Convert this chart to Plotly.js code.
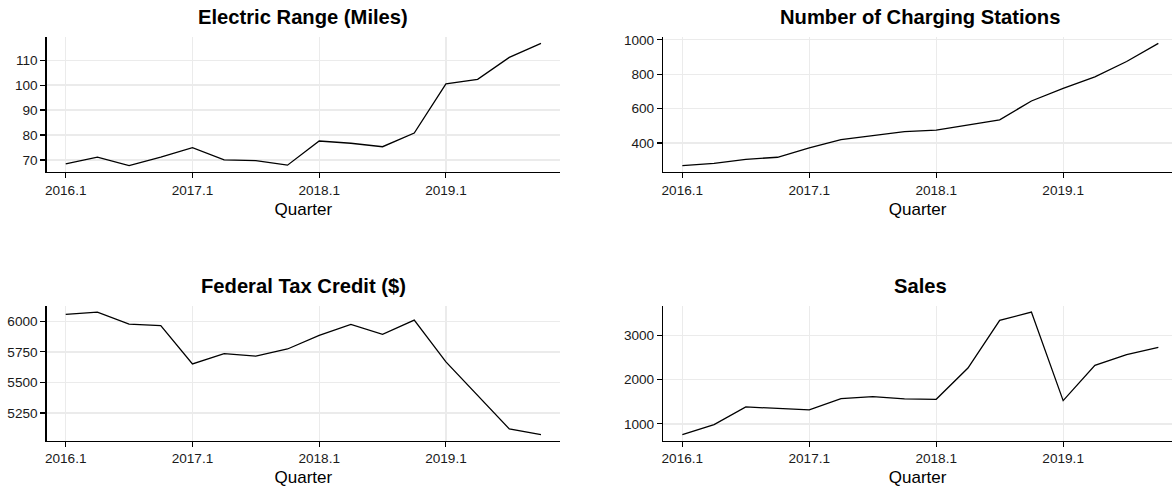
<!DOCTYPE html>
<html>
<head>
<meta charset="utf-8">
<script src="https://cdn.plot.ly/plotly-3.0.1.min.js"></script>
<style>
  html, body { margin: 0; padding: 0; background: #ffffff; overflow: hidden; }
  #chart { width: 1172px; height: 487px; }
</style>
</head>
<body>
<div id="chart"></div>
<script>
// ---- data ----
const quarters = [
  "2016.1","2016.2","2016.3","2016.4",
  "2017.1","2017.2","2017.3","2017.4",
  "2018.1","2018.2","2018.3","2018.4",
  "2019.1","2019.2","2019.3","2019.4"
];
const tickQuarters = ["2016.1","2017.1","2018.1","2019.1"];

const electricRange = [68.4, 71.1, 67.7, 71.1, 74.9, 70.0, 69.7, 67.9,
                       77.6, 76.7, 75.3, 80.8, 100.5, 102.3, 111.1, 116.7];
const chargingStations = [268, 282, 305, 317, 371, 419, 443, 466,
                          475, 503, 535, 644, 717, 785, 874, 979];
const taxCredit = [6057, 6076, 5978, 5965, 5652, 5736, 5715, 5774,
                   5886, 5976, 5894, 6011, 5668, 5394, 5120, 5073];
const sales = [759, 985, 1383, 1346, 1316, 1571, 1617, 1564,
               1556, 2263, 3338, 3526, 1526, 2323, 2564, 2729];

const panelTitles = ["Electric Range (Miles)", "Number of Charging Stations",
                     "Federal Tax Credit ($)", "Sales"];
const yTicks = [
  [70, 80, 90, 100, 110],
  [400, 600, 800, 1000],
  [5250, 5500, 5750, 6000],
  [1000, 2000, 3000]
];
const xTitle = "Quarter";

// ---- layout helpers ----
const W = 1172, H = 487;
const FONT = "Liberation Sans, Arial, Helvetica, sans-serif";
const series = [electricRange, chargingStations, taxCredit, sales];

function expandRange(vals) {
  const mn = Math.min(...vals), mx = Math.max(...vals);
  const pad = 0.05 * (mx - mn);
  return [mn - pad, mx + pad];
}

// panel pixel boxes (left, right, top, bottom)
const boxes = [
  [46.7, 560.0, 37.3, 171.8],
  [663.3, 1172, 37.3, 171.8],
  [46.7, 560.0, 306.0, 440.7],
  [663.3, 1172, 306.0, 440.7]
];
const xRanges = [[-0.6, 15.6], [-0.6, 15.43], [-0.6, 15.6], [-0.6, 15.43]];
const titleCenters = [303.4, 920.0, 303.4, 920.0];
const titleY = [17.2, 17.2, 285.6, 285.6];

const traces = [];
const layout = {
  width: W, height: H,
  margin: {l: 0, r: 0, t: 0, b: 0},
  paper_bgcolor: "#ffffff",
  plot_bgcolor: "#ffffff",
  showlegend: false,
  font: {family: FONT, color: "#000000"},
  annotations: []
};

for (let i = 0; i < 4; i++) {
  const sfx = i === 0 ? "" : String(i + 1);
  traces.push({
    type: "scatter", mode: "lines",
    x: quarters, y: series[i],
    xaxis: "x" + sfx, yaxis: "y" + sfx,
    line: {color: "#000000", width: 1.3},
    hoverinfo: "x+y"
  });
  const b = boxes[i];
  layout["xaxis" + sfx] = {
    type: "category",
    categoryorder: "array", categoryarray: quarters,
    domain: [b[0] / W, b[1] / W],
    anchor: "y" + sfx,
    range: xRanges[i],
    tickmode: "array", tickvals: tickQuarters, ticktext: tickQuarters,
    ticks: "outside", ticklen: 5, tickwidth: 1.1, tickcolor: "#000000",
    showline: true, linecolor: "#000000", linewidth: 1.4,
    showgrid: true, gridcolor: "#ebebeb", gridwidth: 1.2,
    zeroline: false,
    tickfont: {family: FONT, size: 13.6, color: "#1a1a1a"},
    title: {text: xTitle, font: {family: FONT, size: 17, color: "#000000"}, standoff: 6},
    automargin: false,
    fixedrange: true
  };
  layout["yaxis" + sfx] = {
    domain: [(H - b[3]) / H, (H - b[2]) / H],
    anchor: "x" + sfx,
    range: expandRange(series[i]),
    tickmode: "array", tickvals: yTicks[i],
    ticks: "outside", ticklen: 5, tickwidth: 1.1, tickcolor: "#000000",
    showline: true, linecolor: "#000000", linewidth: 1.4,
    showgrid: true, gridcolor: "#ebebeb", gridwidth: 1.2,
    zeroline: false,
    tickfont: {family: FONT, size: 13.6, color: "#1a1a1a"},
    automargin: false,
    fixedrange: true
  };
  layout.annotations.push({
    text: "<b>" + panelTitles[i] + "</b>",
    xref: "paper", yref: "paper",
    x: titleCenters[i] / W, y: (H - titleY[i]) / H,
    xanchor: "center", yanchor: "middle",
    showarrow: false,
    font: {family: FONT, size: 20.2, color: "#000000"}
  });
}

Plotly.newPlot("chart", traces, layout, {displayModeBar: false, staticPlot: true});
</script>
</body>
</html>
